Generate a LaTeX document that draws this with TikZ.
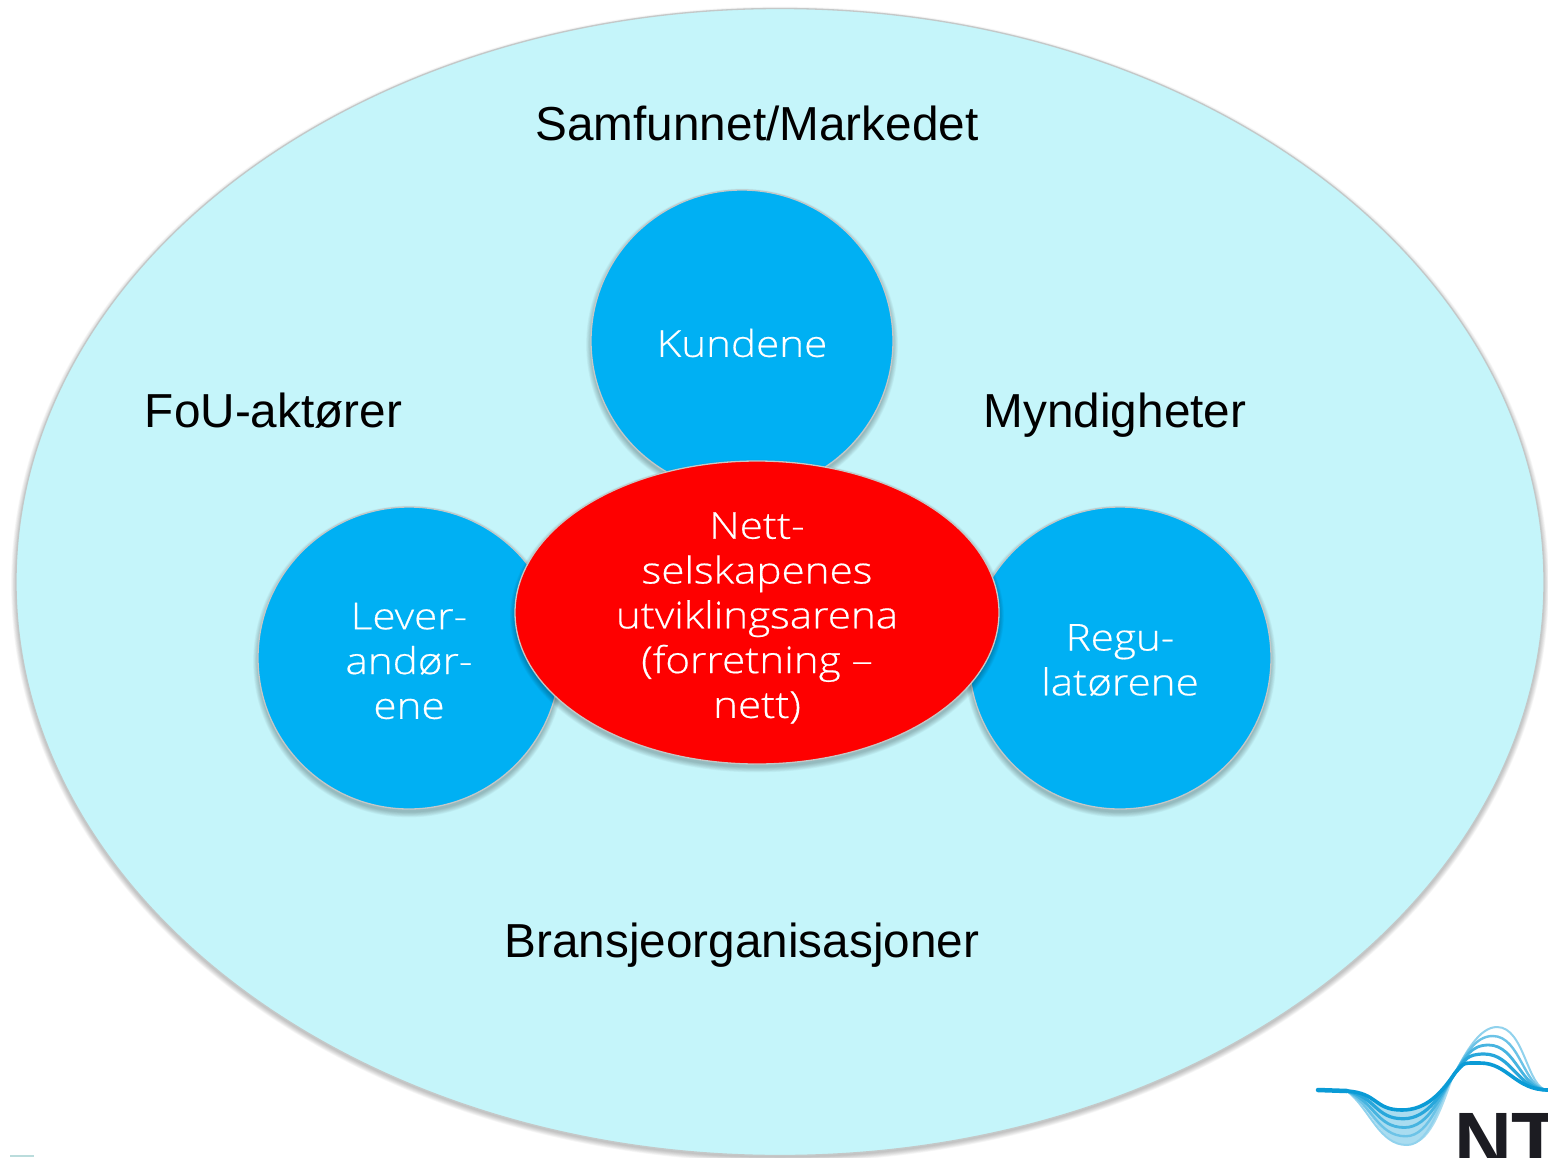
\documentclass[tikz,border=0pt]{standalone}
\usepackage{fontspec}
\setmainfont{Liberation Sans}
\newfontfamily\innerfont[FakeStretch=1.14,FakeBold=0.5]{Open Sans Light}
\usetikzlibrary{shapes.geometric}
\definecolor{paleblue}{HTML}{C5F5FA}
\definecolor{midblue}{HTML}{00B0F3}
\definecolor{nodered}{HTML}{FE0000}
\definecolor{edgegrey}{HTML}{C4C8C8}
\definecolor{wavedark}{HTML}{0A9BD6}
\definecolor{nttext}{HTML}{1C1C22}
\newcommand{\softshadow}[4]{% cx cy rx ry
  \foreach \g in {7,6,...,0}{
    \fill[black,opacity=0.03] (#1,#2+3.5) ellipse [x radius=#3+\g*0.7, y radius=#4+\g*0.7];
  }}
\tikzset{
  x=1pt,y=-1pt,
  bigtext/.style={font=\fontsize{47.7}{52}\selectfont,text=black,anchor=base,inner sep=0pt},
  inlabel/.style={font=\innerfont\fontsize{37}{44.8}\selectfont,text=white,align=center,inner sep=0pt},
  blob/.style={ellipse,draw=edgegrey,line width=1.3pt,inner sep=0pt},
  bluecircle/.style={blob,fill=midblue,minimum width=302pt,minimum height=302pt},
  redellipse/.style={blob,fill=nodered,minimum width=484pt,minimum height=303pt},
  wave/.style={line cap=round},
}
\begin{document}
\begin{tikzpicture}
\useasboundingbox (0,0) rectangle (1548,1157);
\clip (0,0) rectangle (1548,1157);
\fill[white] (0,0) rectangle (1548,1157);
% outer field
\softshadow{780}{581}{764}{573}
\node[ellipse,fill=paleblue,draw=edgegrey,line width=1.3pt,inner sep=0pt,
  minimum width=1528pt,minimum height=1147pt] (field) at (780,582) {};
% satellites
\softshadow{742}{341}{151}{151}
\node[bluecircle] (kundene) at (742,341) {};
\softshadow{409}{658}{151}{151}
\node[bluecircle] (lever) at (409,658) {};
\softshadow{1120}{658}{151}{151}
\node[bluecircle] (regu) at (1120,658) {};
\softshadow{757}{612.5}{242}{151.5}
\node[redellipse] (nett) at (757,612.5) {};
% labels in shapes
\node[inlabel] (t1) at (742,343) {Kundene};
\node[inlabel] (t2) at (409,661) {Lever-\\andør-\\ene};
\node[inlabel] (t3) at (1120,660) {Regu-\\latørene};
\node[inlabel] (t4) at (757,618) {Nett-\\selskapenes\\utviklingsarena\\(forretning –\\nett)};
% outer labels
\node[bigtext] (samf) at (757,140) {Samfunnet/Markedet};
\node[bigtext] (fou) at (273.5,427) {FoU-aktører};
\node[bigtext] (mynd) at (1115,427) {Myndigheter};
\node[bigtext] (bran) at (742,957) {Bransjeorganisasjoner};
% logo
\fill[wavedark,opacity=0.35] (1347,1091) .. controls (1375,1093) and (1378,1110) .. (1402,1110)
  .. controls (1428,1110) and (1440,1092) .. (1455,1073)
  .. controls (1440,1115) and (1430,1145) .. (1407,1145)
  .. controls (1380,1145) and (1370,1105) .. (1347,1091) -- cycle;
\foreach \t/\c in {4/45,3/60,2/75,1/88,0/100}{
  \pgfmathsetmacro{\ty}{1110+\t*35/4}
  \pgfmathsetmacro{\tx}{1402+\t*5/4}
  \pgfmathsetmacro{\py}{1063-\t*36/4}
  \pgfmathsetmacro{\px}{1480+\t*17/4}
  \pgfmathsetmacro{\cl}{1378-\t*2}
  \pgfmathsetmacro{\cr}{1515+\t*3}
  \draw[wave,wavedark!\c!white,line width=2pt+0.4pt*(4-\t)]
    (1347,1091) .. controls (\cl,1093+\t*4) and ({\tx-28},\ty) .. (\tx,\ty)
    .. controls ({\tx+25},\ty) and (1442,1092) .. (1455,1073)
    .. controls (1465,1062+\t*-2) and ({\px-18},\py) .. (\px,\py)
    .. controls ({\px+28},\py) and (\cr,1090) .. (1548,1090);
}
\draw[wave,wavedark,line width=4.5pt] (1318,1090) -- (1347,1091);
\node[font=\bfseries\fontsize{80}{80}\selectfont,text=nttext,anchor=base west,inner sep=0pt] (ntnu) at (1454,1168) {NT};
% trace at the lower left
\fill[teal!45!white,opacity=0.6] (10,1155) rectangle (34,1157);
\end{tikzpicture}
\end{document}
